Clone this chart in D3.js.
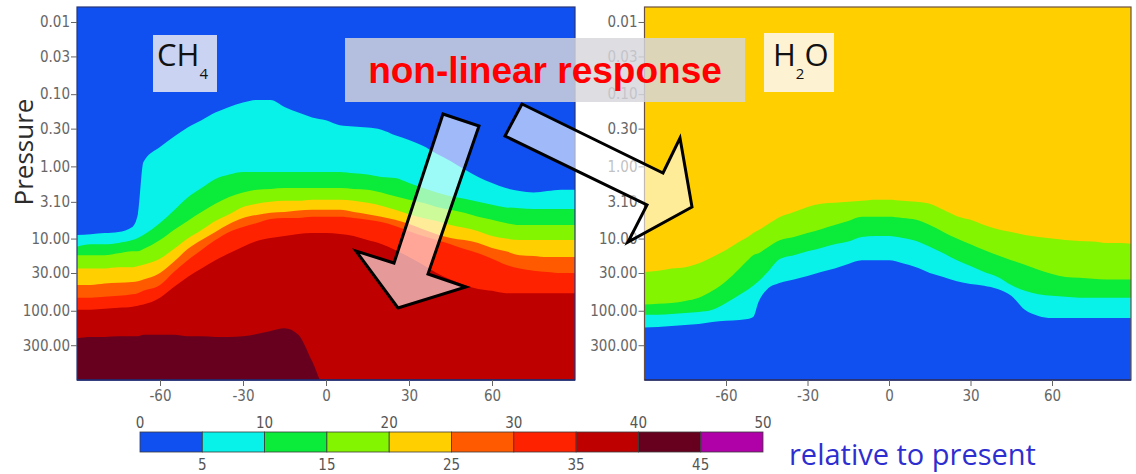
<!DOCTYPE html>
<html><head><meta charset="utf-8">
<script src="https://cdn.jsdelivr.net/npm/d3@7"></script>
<style>
html,body{margin:0;padding:0;background:#fff;}
svg{display:block;}
</style></head><body>
<svg id="chart" width="1136" height="474"></svg>
<script>
// ---------------- DATA ----------------
// contour levels (relative change) and their fill colours
const levels = [0, 5, 10, 15, 20, 25, 30, 35, 40, 45, 50];
const levelColors = ["#1050f0", "#08f2ea", "#0aeb3a", "#84f500", "#ffcf00",
                     "#ff5a00", "#ff2200", "#be0000", "#66001e", "#b000a8"];
const topLabels = [0, 10, 20, 30, 40, 50];
const bottomLabels = [5, 15, 25, 35, 45];

// axis ticks
const pressureTicks = [0.01, 0.03, 0.1, 0.3, 1, 3.1, 10, 30, 100, 300];
const latTicks = [-60, -30, 0, 30, 60];

// CH4 panel: latitude grid and pressure (hPa) of each contour boundary
const ch4Lats = [-90,-85,-80,-75,-70,-68,-66,-60,-55,-50,-45,-40,-35,-30,-25,-20,-15,-10,-5,0,
                 5,10,15,20,25,30,35,40,45,50,55,60,65,70,75,80,85,90];
const ch4_p5  = [8.9,8.7,8.4,8.1,6.9,4.6,0.87,0.54,0.39,0.29,0.23,0.18,0.15,0.13,0.12,0.12,0.15,0.18,0.21,0.23,
                 0.27,0.28,0.29,0.31,0.37,0.43,0.52,0.67,0.84,1.1,1.4,1.7,2.0,2.2,2.3,2.2,2.1,2.1];
const ch4_p10 = [13,12,12,11.5,10.5,9.8,8.9,6.1,4.1,2.7,2.0,1.5,1.3,1.2,1.2,1.2,1.2,1.2,1.2,1.2,
                 1.2,1.25,1.3,1.4,1.45,1.7,2.0,2.3,2.6,2.8,3.1,3.4,3.7,3.8,3.9,3.9,3.9,3.9];
const ch4_p15 = [17,17,17,16,15,15,14,10.5,7.6,5.7,4.3,3.3,2.65,2.3,2.1,2.05,2.0,2.0,2.0,2.0,
                 2.0,2.05,2.1,2.3,2.6,2.9,3.2,3.65,4.0,4.4,5.0,5.5,6.1,6.5,6.5,6.5,6.5,6.5];
const ch4_p20 = [26,26,26,25,25,24,23,19,14,10,7.6,5.7,4.6,3.65,3.3,3.1,3.0,3.0,2.9,2.9,
                 2.9,3.0,3.2,3.5,4.0,4.6,5.2,5.7,6.5,7.1,7.9,9.2,10,10.5,10.5,10.5,10.5,10.5];
const ch4_p25 = [44,44,42,41,40,39,37,30,21,14,10.5,8.1,6.3,5.2,4.7,4.4,4.3,4.1,4.0,4.0,
                 4.0,4.3,4.6,5.0,5.5,6.3,7.4,8.7,9.8,10.5,11.5,13.5,15,17,17.4,18,18,18];
const ch4_p30 = [66,66,64,62,59,57,53,44,29,20,14.4,10.5,8.1,6.9,6.1,5.35,5.2,5.2,5.0,5.0,
                 5.0,5.2,5.5,5.9,6.7,7.9,9.2,10.5,12,14,16,19,23,26,28,29,30,30];
const ch4_p35 = [97,97,94,91,88,85,82,66,47,34,26,20,16,13,10.8,9.8,9.2,8.65,8.4,8.4,
                 8.65,9.2,10.5,11.9,14.4,18,23,30,37,44,50,53,57,57,57,57,57,57];
const ch4_p40 = [240,230,230,225,225,225,215,215,215,225,225,230,230,225,210,190,175,215,500,1200,
                 1200,1200,1200,1200,1200,1200,1200,1200,1200,1200,1200,1200,1200,1200,1200,1200,1200,1200];

// H2O panel
const h2oLats = [-90,-85,-80,-75,-70,-65,-60,-55,-52,-50,-48,-45,-40,-35,-30,-25,-20,-15,-10,-5,0,
                 5,10,15,20,25,30,35,40,45,50,55,60,65,70,75,80,85,90];
const h2o_p20 = [29,28,26,25,22,18,14.4,11,9.5,8.4,7.6,6.5,5.0,4.3,3.65,3.3,3.2,3.1,3.0,2.9,2.9,
                 3.0,3.1,3.3,4.0,4.9,5.5,6.5,7.4,8.1,8.9,9.5,10,10.5,10.8,11,11.5,11.5,11.9];
const h2o_p15 = [82,80,78,73,66,53,39,26,20,17,16,13.5,10.5,9.5,8.4,7.4,6.5,5.7,5.0,5.0,5.0,
                 5.2,5.5,6.5,8.1,10,12,14.4,17,20,23,27,31,34,35,36,37,37,37];
const h2o_p10 = [114,114,111,107,104,97,78,60,51,45,39,30,19,17,15,13.5,12,11,9.5,9.2,9.2,
                 9.8,10.8,13,16,20,24,29,34,44,53,59,62,64,66,66,66,66,66];
const h2o_p5  = [170,168,162,157,152,143,138,134,130,122,75,51,41,37,33,29,26,22.5,20,20,20,
                 22,25,30,34,39,42.5,45,50,62,97,118,126,126,126,126,126,126,126];

// ---------------- LAYOUT ----------------
const svg = d3.select("#chart");
const plotTop = 7, plotBottom = 380;
const y = d3.scaleLog().domain([0.0062, 910]).range([plotTop, plotBottom]);
const xL = d3.scaleLinear().domain([-90, 90]).range([77, 575]);
const xR = d3.scaleLinear().domain([-90, 90]).range([644.5, 1133.5]);
const tickFont = "'Liberation Sans Narrow','DejaVu Sans Condensed',sans-serif";

function drawPanel(id, x, xRight, lats, bgColor, bands) {
  const x0 = x.range()[0];
  const g = svg.append("g");
  svg.append("clipPath").attr("id", "clip-" + id)
    .append("rect").attr("x", x0).attr("y", plotTop)
    .attr("width", xRight - x0).attr("height", plotBottom - plotTop);
  const pg = g.append("g").attr("clip-path", `url(#clip-${id})`);
  pg.append("rect").attr("x", x0).attr("y", plotTop)
    .attr("width", xRight - x0).attr("height", plotBottom - plotTop).attr("fill", bgColor);
  const area = d3.area()
    .x(d => x(d.lat)).y0(plotBottom + 40).y1(d => y(d.p))
    .curve(d3.curveMonotoneX);
  bands.forEach(b => {
    const pts = lats.map((lat, i) => ({lat, p: b.values[i]}));
    pg.append("path").datum(pts).attr("d", area).attr("fill", b.color);
  });
  // frame
  g.append("rect").attr("x", x0).attr("y", plotTop)
    .attr("width", xRight - x0).attr("height", plotBottom - plotTop)
    .attr("fill", "none").attr("stroke", id === "ch4" ? "#27357a" : "#6a5040").attr("stroke-width", 1.2);
  g.append("line").attr("x1", x0).attr("x2", xRight).attr("y1", plotBottom).attr("y2", plotBottom)
    .attr("stroke", "#1e2a70").attr("stroke-width", 1.5);

  // axes
  const ay = g.append("g").attr("transform", `translate(${x0},0)`)
    .call(d3.axisLeft(y).tickValues(pressureTicks).tickFormat(d3.format(".2f")).tickSize(6).tickPadding(1));
  const ax = g.append("g").attr("transform", `translate(0,${plotBottom})`)
    .call(d3.axisBottom(x).tickValues(latTicks).tickFormat(d => String(d)).tickSize(6).tickPadding(4));
  [ay, ax].forEach(a => {
    a.select(".domain").remove();
    a.selectAll(".tick line").attr("stroke", "#666");
    a.selectAll(".tick text").attr("fill", "#666").style("font-family", tickFont).style("font-size", "15px");
  });
  return g;
}

drawPanel("ch4", xL, 575, ch4Lats, levelColors[0], [
  {values: ch4_p5,  color: levelColors[1]},
  {values: ch4_p10, color: levelColors[2]},
  {values: ch4_p15, color: levelColors[3]},
  {values: ch4_p20, color: levelColors[4]},
  {values: ch4_p25, color: levelColors[5]},
  {values: ch4_p30, color: levelColors[6]},
  {values: ch4_p35, color: levelColors[7]},
  {values: ch4_p40, color: levelColors[8]}
]);
drawPanel("h2o", xR, 1131, h2oLats, levelColors[4], [
  {values: h2o_p20, color: levelColors[3]},
  {values: h2o_p15, color: levelColors[2]},
  {values: h2o_p10, color: levelColors[1]},
  {values: h2o_p5,  color: levelColors[0]}
]);

// y-axis title
svg.append("text").attr("transform", "translate(33,152) rotate(-90)")
  .attr("text-anchor", "middle").attr("fill", "#2b2b2b")
  .style("font-family", "'Open Sans',sans-serif").style("font-size", "26px").text("Pressure");

// species labels
svg.append("rect").attr("x", 153).attr("y", 35).attr("width", 64).attr("height", 57).attr("fill", "#cad3f1");
const t1 = svg.append("text").attr("x", 157).attr("y", 66).attr("fill", "#111")
  .style("font-family", "'Open Sans',sans-serif").style("font-size", "31px");
t1.append("tspan").text("CH");
t1.append("tspan").attr("dy", 13).style("font-size", "15px").text("4");

svg.append("rect").attr("x", 764).attr("y", 33).attr("width", 70).attr("height", 59).attr("fill", "#fdf3d3");
const t2 = svg.append("text").attr("x", 773).attr("y", 66).attr("fill", "#111")
  .style("font-family", "'Open Sans',sans-serif").style("font-size", "31px");
t2.append("tspan").text("H");
t2.append("tspan").attr("dy", 13).style("font-size", "15px").text("2");
t2.append("tspan").attr("dy", -13).text("O");

// annotation box + arrows
svg.append("rect").attr("x", 345).attr("y", 38).attr("width", 400).attr("height", 64)
  .attr("fill", "#d6d6dc").attr("fill-opacity", 0.83);
svg.append("text").attr("x", 545).attr("y", 83).attr("text-anchor", "middle")
  .attr("fill", "#ff0000").style("font-family", "'Liberation Sans',Arial,sans-serif")
  .style("font-weight", "bold").style("font-size", "37px").text("non-linear response");

const arrows = [
  [[443,114],[479,126],[428,274],[466,287],[398,308],[356,251],[394,263]],
  [[522,104],[663,173],[680,138],[692,207],[628,242],[647,205],[505,136]]
];
svg.selectAll("path.arrow").data(arrows).enter().append("path").attr("class", "arrow")
  .attr("d", d => "M" + d.join("L") + "Z")
  .attr("fill", "#ffffff").attr("fill-opacity", 0.6)
  .attr("stroke", "#000").attr("stroke-width", 3).attr("stroke-linejoin", "miter");

// colour bar
const cb = d3.scaleLinear().domain([0, 50]).range([140, 763]);
const cbTop = 432, cbH = 20;
const cbg = svg.append("g");
cbg.selectAll("rect").data(levelColors).enter().append("rect")
  .attr("x", (d, i) => cb(levels[i])).attr("y", cbTop)
  .attr("width", (d, i) => cb(levels[i + 1]) - cb(levels[i])).attr("height", cbH)
  .attr("fill", d => d).attr("stroke", "#3a3a3a").attr("stroke-width", 0.8);
cbg.selectAll("text.top").data(topLabels).enter().append("text").attr("class", "top")
  .attr("x", d => cb(d)).attr("y", 428).attr("text-anchor", "middle").attr("fill", "#555")
  .style("font-family", tickFont).style("font-size", "15px").text(d => d);
cbg.selectAll("text.bot").data(bottomLabels).enter().append("text").attr("class", "bot")
  .attr("x", d => cb(d)).attr("y", 470).attr("text-anchor", "middle").attr("fill", "#555")
  .style("font-family", tickFont).style("font-size", "15px").text(d => d);

svg.append("text").attr("x", 789).attr("y", 465).attr("fill", "#2e2ed0")
  .style("font-family", "'Open Sans',sans-serif").style("font-size", "29px").text("relative to present");
</script>
</body></html>
